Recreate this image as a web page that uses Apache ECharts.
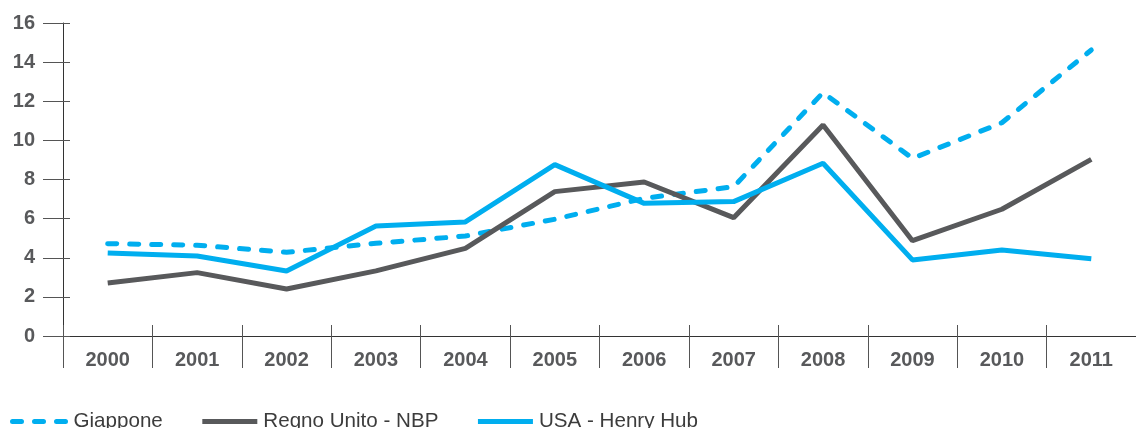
<!DOCTYPE html>
<html>
<head>
<meta charset="utf-8">
<script src="https://cdn.jsdelivr.net/npm/echarts@6/dist/echarts.min.js"></script>
<style>
  html, body { margin: 0; padding: 0; background: #fff; }
  #chart { width: 1136px; height: 428px; }
</style>
</head>
<body>
<div id="chart"></div>
<script>
// anni
var years = ["2000", "2001", "2002", "2003", "2004", "2005", "2006", "2007", "2008", "2009", "2010", "2011"];
// valori
var giappone = [4.72, 4.64, 4.28, 4.74, 5.11, 5.97, 7.04, 7.63, 12.44, 9.08, 10.9, 14.62];
var regnoUnito = [2.71, 3.24, 2.40, 3.33, 4.48, 7.38, 7.87, 6.05, 10.79, 4.87, 6.48, 9.03];
var usa = [4.24, 4.09, 3.32, 5.62, 5.83, 8.76, 6.78, 6.87, 8.83, 3.89, 4.40, 3.95];

var BLUE = "#00aeef";
var GREY = "#58595b";
var FONT = "Liberation Sans, Arial, sans-serif";

var chart = echarts.init(document.getElementById("chart"));

var option = {
  backgroundColor: "#fff",
  animation: false,
  grid: { left: 63, top: 23, width: 1081, height: 313 },
  legend: {
    left: 10,
    top: 411,
    padding: 0,
    itemWidth: 55,
    itemHeight: 14,
    itemGap: 37,
    itemStyle: { opacity: 0 },
    lineStyle: { width: 5 },
    textStyle: { fontFamily: FONT, fontSize: 20.6, lineHeight: 14, color: "#3c3c3c", padding: [0, 0, 0, 1] },
    data: ["Giappone", "Regno Unito - NBP", "USA - Henry Hub"]
  },
  xAxis: [
    {
      // separatori sotto l'asse + etichette
      type: "category",
      data: years,
      boundaryGap: true,
      axisLine: { lineStyle: { color: "#333", width: 1 } },
      axisTick: { show: true, interval: 0, length: 32, lineStyle: { color: "#555" } },
      axisLabel: { interval: 0, margin: 14, fontFamily: FONT, fontSize: 20, fontWeight: "bold", color: GREY }
    },
    {
      // piccoli tratti sopra l'asse
      type: "category",
      data: years,
      position: "bottom",
      boundaryGap: true,
      axisLine: { show: false },
      axisTick: { show: true, inside: true, interval: 0, length: 11, lineStyle: { color: "#555" } },
      axisLabel: { show: false }
    }
  ],
  yAxis: [
    {
      type: "value",
      min: 0,
      max: 16,
      interval: 2,
      axisLine: { show: true, lineStyle: { color: "#333", width: 1 } },
      axisTick: { show: true, length: 20, lineStyle: { color: "#555" } },
      splitLine: { show: false },
      axisLabel: { margin: 28, fontFamily: FONT, fontSize: 20, fontWeight: "bold", color: GREY }
    },
    {
      type: "value",
      position: "left",
      min: 0,
      max: 16,
      interval: 2,
      axisLine: { show: false },
      axisTick: { show: true, inside: true, length: 7, lineStyle: { color: "#555" } },
      splitLine: { show: false },
      axisLabel: { show: false }
    }
  ],
  series: [
    {
      name: "Giappone",
      type: "line",
      data: giappone,
      symbol: "none",
      color: BLUE,
      lineStyle: { color: BLUE, width: 5, type: [9, 13], cap: "round" }
    },
    {
      name: "Regno Unito - NBP",
      type: "line",
      data: regnoUnito,
      symbol: "none",
      color: GREY,
      lineStyle: { color: GREY, width: 5 }
    },
    {
      name: "USA - Henry Hub",
      type: "line",
      data: usa,
      symbol: "none",
      color: BLUE,
      lineStyle: { color: BLUE, width: 5 }
    }
  ]
};

chart.setOption(option);
</script>
</body>
</html>
